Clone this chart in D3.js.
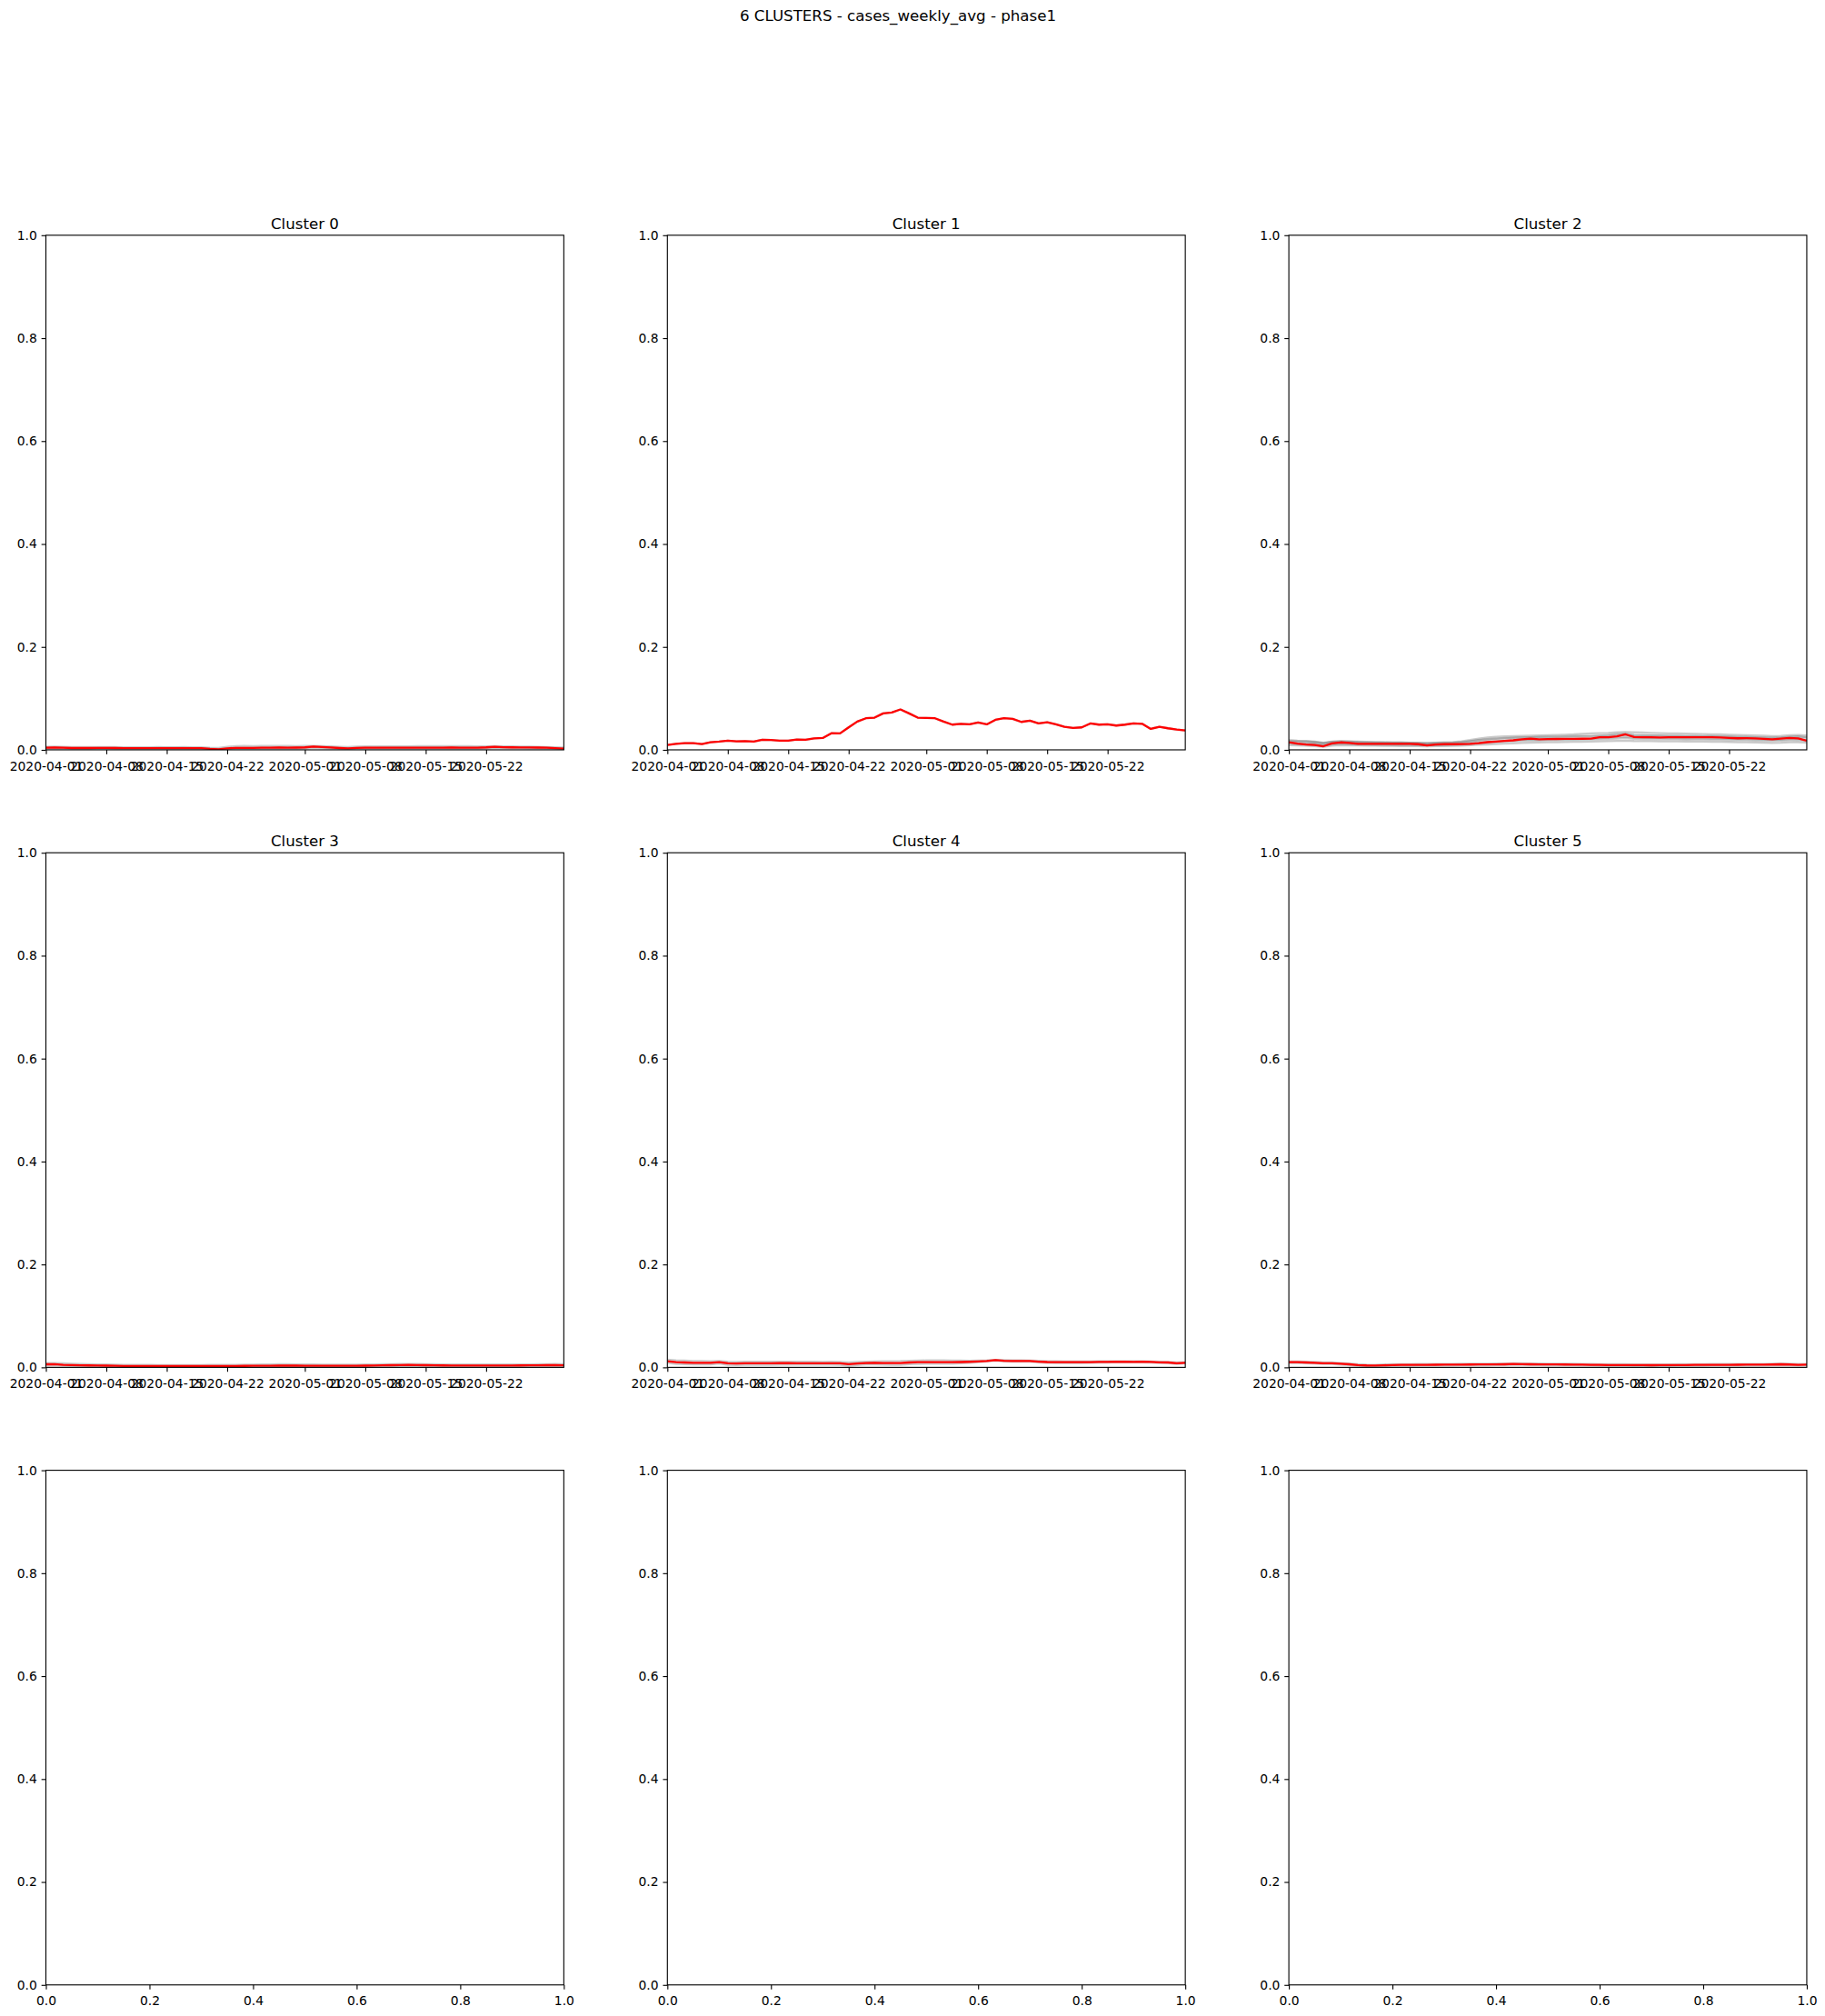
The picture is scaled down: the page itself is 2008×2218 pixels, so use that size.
<!DOCTYPE html>
<html><head><meta charset="utf-8">
<script src="https://cdn.jsdelivr.net/npm/d3@7"></script>
<style>body{margin:0;background:#fff}svg{display:block}</style>
</head><body>
<script>
// ---------------- DATA ----------------
const figTitle = "6 CLUSTERS - cases_weekly_avg - phase1";
const clusterNames = ["Cluster 0", "Cluster 1", "Cluster 2", "Cluster 3", "Cluster 4", "Cluster 5"];
const startDate = "2020-04-01";
const endDate = "2020-05-31";
const xTickDates = ["2020-04-01", "2020-04-08", "2020-04-15", "2020-04-22", "2020-05-01", "2020-05-08", "2020-05-15", "2020-05-22"];
const yTickValues = [0, 0.2, 0.4, 0.6, 0.8, 1.0];
const emptyXTickValues = [0, 0.2, 0.4, 0.6, 0.8, 1.0];

const cluster0Mean = [0.004,0.0045,0.004,0.0035,0.0035,0.0035,0.0036,0.0036,0.0035,0.0033,0.0032,0.0032,0.0033,0.0034,0.0033,0.0033,0.0034,0.0033,0.0032,0.002,0.0012,0.003,0.0038,0.0038,0.0037,0.004,0.0043,0.0046,0.0042,0.0044,0.0048,0.0065,0.0055,0.0045,0.0035,0.0028,0.0038,0.0042,0.004,0.004,0.0041,0.004,0.004,0.0041,0.0042,0.0043,0.0043,0.0044,0.0043,0.0042,0.0043,0.0048,0.006,0.0052,0.0048,0.0047,0.0045,0.0044,0.004,0.0033,0.0025];
const cluster0Members = [
 [0.006,0.0065,0.006,0.0055,0.0055,0.0054,0.0055,0.0055,0.0054,0.0052,0.005,0.005,0.0052,0.0053,0.0052,0.0052,0.0053,0.0052,0.005,0.004,0.0035,0.006,0.0072,0.0075,0.0074,0.0075,0.0076,0.0078,0.0075,0.0074,0.0075,0.0078,0.0072,0.0068,0.006,0.0055,0.0062,0.0066,0.0066,0.0067,0.0068,0.0068,0.0069,0.007,0.0071,0.0072,0.0072,0.0073,0.0072,0.007,0.0068,0.0068,0.0072,0.0068,0.0066,0.0064,0.0062,0.006,0.0056,0.005,0.0045],
 [0.002,0.0025,0.002,0.0018,0.0018,0.0017,0.0018,0.0018,0.0017,0.0016,0.0015,0.0015,0.0016,0.0016,0.0015,0.0015,0.0016,0.0015,0.0014,0.0008,0.0004,0.0012,0.0016,0.0015,0.0015,0.0017,0.002,0.0022,0.0019,0.002,0.0024,0.004,0.0032,0.0024,0.0015,0.001,0.0018,0.0021,0.002,0.002,0.002,0.0019,0.0019,0.002,0.0021,0.0021,0.0021,0.0022,0.0021,0.002,0.0022,0.0026,0.0038,0.0032,0.0028,0.0028,0.0026,0.0025,0.0022,0.0018,0.0012],
 [0.004,0.0042,0.0038,0.0034,0.0033,0.0034,0.0035,0.0035,0.0036,0.0034,0.0033,0.0034,0.0034,0.0036,0.0035,0.0035,0.0036,0.0034,0.0033,0.0025,0.0015,0.0028,0.0036,0.0035,0.0035,0.0038,0.0041,0.0044,0.004,0.0042,0.0046,0.006,0.0052,0.0044,0.0034,0.003,0.0036,0.004,0.0038,0.0039,0.004,0.0039,0.0039,0.004,0.0041,0.0042,0.0042,0.0043,0.0042,0.0041,0.0042,0.0046,0.0056,0.005,0.0046,0.0046,0.0044,0.0043,0.0039,0.0032,0.0024]
];

const cluster1Mean = [0.0094,0.0118,0.013,0.013,0.0112,0.0147,0.016,0.0177,0.0165,0.017,0.016,0.0195,0.019,0.018,0.0177,0.02,0.0195,0.0224,0.023,0.0324,0.0319,0.0437,0.0549,0.0614,0.0625,0.0708,0.0726,0.0785,0.0708,0.0625,0.062,0.0614,0.0549,0.049,0.0507,0.0496,0.053,0.0496,0.0584,0.0614,0.0602,0.0543,0.0566,0.0513,0.0537,0.0496,0.0448,0.0425,0.0437,0.0513,0.049,0.0496,0.0472,0.049,0.0513,0.0507,0.0407,0.0448,0.0419,0.0395,0.0378];
const cluster1Members = [
 [0.0094,0.0118,0.013,0.013,0.0112,0.0147,0.016,0.0177,0.0165,0.017,0.016,0.0195,0.019,0.018,0.0177,0.02,0.0195,0.0224,0.023,0.0324,0.0319,0.0437,0.0549,0.0614,0.0625,0.0708,0.0726,0.0785,0.0708,0.0625,0.062,0.0614,0.0549,0.049,0.0507,0.0496,0.053,0.0496,0.0584,0.0614,0.0602,0.0543,0.0566,0.0513,0.0537,0.0496,0.0448,0.0425,0.0437,0.0513,0.049,0.0496,0.0472,0.049,0.0513,0.0507,0.0407,0.0448,0.0419,0.0395,0.0378]
];

const cluster2Mean = [0.0147,0.012,0.0105,0.0095,0.007,0.0125,0.0145,0.0135,0.0118,0.0118,0.0118,0.0118,0.0116,0.0118,0.0117,0.011,0.0085,0.0105,0.011,0.011,0.0112,0.0118,0.013,0.015,0.0162,0.0175,0.0185,0.0205,0.0218,0.0205,0.021,0.0212,0.0214,0.0215,0.0216,0.0218,0.0245,0.0245,0.0262,0.03,0.025,0.0245,0.0243,0.0242,0.0243,0.0244,0.0245,0.0245,0.0244,0.0243,0.0242,0.0232,0.0225,0.0226,0.0224,0.0215,0.0205,0.022,0.023,0.0224,0.0177];
const cluster2Members = [
 [0.019,0.018,0.0175,0.016,0.014,0.016,0.017,0.0165,0.016,0.0155,0.015,0.015,0.0148,0.0145,0.014,0.0138,0.0135,0.014,0.0145,0.015,0.0165,0.019,0.022,0.024,0.0255,0.026,0.0265,0.027,0.0275,0.028,0.0285,0.029,0.0295,0.03,0.031,0.032,0.0325,0.033,0.034,0.0345,0.034,0.0335,0.033,0.0325,0.032,0.0318,0.0315,0.031,0.0305,0.03,0.03,0.0295,0.029,0.0285,0.028,0.0275,0.0265,0.027,0.0285,0.029,0.028],
 [0.016,0.0155,0.015,0.0145,0.0135,0.0145,0.015,0.0148,0.0145,0.014,0.014,0.0138,0.0136,0.0135,0.0133,0.013,0.0128,0.0132,0.0136,0.014,0.015,0.017,0.019,0.021,0.022,0.023,0.0235,0.024,0.0245,0.025,0.0252,0.0255,0.026,0.0265,0.027,0.0272,0.0275,0.028,0.029,0.0295,0.0285,0.028,0.0278,0.0275,0.0272,0.027,0.0268,0.0265,0.0262,0.026,0.0258,0.0255,0.025,0.0248,0.0245,0.024,0.0235,0.0238,0.025,0.0255,0.024],
 [0.012,0.011,0.0105,0.01,0.009,0.0105,0.0115,0.011,0.0105,0.0102,0.01,0.0098,0.0096,0.0095,0.0094,0.0092,0.009,0.0092,0.0095,0.0098,0.0105,0.0115,0.0128,0.014,0.015,0.016,0.0168,0.0175,0.018,0.0185,0.0188,0.019,0.0192,0.0195,0.0198,0.02,0.0205,0.021,0.022,0.023,0.0215,0.021,0.0208,0.0206,0.0205,0.0204,0.0203,0.0202,0.02,0.0198,0.0196,0.0194,0.019,0.0188,0.0185,0.018,0.0175,0.018,0.0188,0.019,0.017],
 [0.009,0.0085,0.008,0.0075,0.006,0.008,0.009,0.0088,0.0085,0.0083,0.008,0.0078,0.0076,0.0075,0.0074,0.0072,0.007,0.0072,0.0075,0.0078,0.0082,0.009,0.0098,0.0105,0.0112,0.012,0.0128,0.0135,0.014,0.0145,0.0148,0.015,0.0153,0.0155,0.0158,0.016,0.0165,0.017,0.0175,0.018,0.0172,0.017,0.0168,0.0166,0.0165,0.0164,0.0163,0.0162,0.016,0.0158,0.0156,0.0154,0.015,0.0148,0.0145,0.014,0.0136,0.014,0.0148,0.015,0.014],
 [0.0175,0.017,0.0165,0.015,0.0125,0.0155,0.0165,0.016,0.015,0.0145,0.0142,0.014,0.0138,0.0137,0.0135,0.013,0.0118,0.0128,0.0132,0.0135,0.0145,0.0165,0.0185,0.02,0.0212,0.0222,0.023,0.0238,0.0245,0.0248,0.025,0.0252,0.0255,0.0258,0.026,0.0262,0.0275,0.029,0.0305,0.032,0.029,0.0285,0.028,0.0278,0.0276,0.0274,0.0272,0.027,0.0268,0.0265,0.0262,0.026,0.0255,0.025,0.0245,0.024,0.0232,0.024,0.0255,0.026,0.0245],
 [0.0135,0.0125,0.012,0.0115,0.0095,0.012,0.013,0.0125,0.012,0.0118,0.0115,0.0113,0.0111,0.011,0.0108,0.0105,0.0095,0.0102,0.0106,0.011,0.0118,0.0132,0.0148,0.016,0.017,0.018,0.0188,0.0195,0.02,0.0202,0.0205,0.0208,0.021,0.0212,0.0215,0.0218,0.0228,0.0235,0.0245,0.0255,0.0238,0.0235,0.0232,0.023,0.0228,0.0226,0.0225,0.0224,0.0222,0.022,0.0218,0.0215,0.021,0.0208,0.0205,0.02,0.0195,0.0198,0.021,0.0212,0.0195]
];

const cluster3Mean = [0.006,0.0062,0.005,0.0045,0.004,0.0038,0.0035,0.0033,0.003,0.0028,0.0028,0.0027,0.0027,0.0026,0.0026,0.0025,0.0025,0.0026,0.0026,0.0026,0.0027,0.0028,0.0028,0.0029,0.003,0.0031,0.0032,0.0033,0.0033,0.0033,0.0032,0.0032,0.0031,0.003,0.003,0.003,0.0031,0.0033,0.0036,0.004,0.0042,0.0045,0.0048,0.0046,0.0042,0.004,0.0038,0.0037,0.0036,0.0035,0.0035,0.0035,0.0036,0.0036,0.0037,0.0038,0.0039,0.004,0.0042,0.0045,0.004];
const cluster3Members = [
 [0.0085,0.0085,0.0078,0.0072,0.0066,0.0062,0.0058,0.0055,0.0052,0.005,0.0049,0.0048,0.0047,0.0046,0.0046,0.0045,0.0045,0.0046,0.0046,0.0047,0.0048,0.0049,0.005,0.0052,0.0054,0.0056,0.0058,0.006,0.006,0.0058,0.0056,0.0055,0.0054,0.0053,0.0052,0.0052,0.0053,0.0055,0.0058,0.006,0.0062,0.0064,0.0066,0.0064,0.0062,0.006,0.0058,0.0057,0.0056,0.0055,0.0055,0.0055,0.0056,0.0056,0.0057,0.0058,0.0059,0.006,0.0062,0.0065,0.006],
 [0.0035,0.004,0.003,0.0025,0.002,0.0018,0.0016,0.0014,0.0012,0.0011,0.0011,0.001,0.001,0.001,0.001,0.001,0.001,0.001,0.001,0.001,0.0011,0.0011,0.0011,0.0012,0.0012,0.0013,0.0013,0.0014,0.0014,0.0014,0.0013,0.0013,0.0012,0.0012,0.0012,0.0012,0.0013,0.0014,0.0016,0.002,0.0024,0.0028,0.003,0.0028,0.0024,0.0022,0.002,0.0019,0.0018,0.0017,0.0017,0.0017,0.0018,0.0018,0.0019,0.002,0.0021,0.0022,0.0024,0.0027,0.0022]
];

const cluster4Mean = [0.012,0.01,0.0095,0.009,0.009,0.0088,0.01,0.0078,0.0076,0.0078,0.008,0.008,0.0081,0.0082,0.0082,0.0081,0.008,0.008,0.008,0.0081,0.0078,0.0062,0.0075,0.0085,0.0086,0.0085,0.0084,0.0085,0.0095,0.01,0.0102,0.0103,0.0103,0.0102,0.0104,0.0108,0.0115,0.0125,0.014,0.0128,0.0125,0.0124,0.0122,0.0112,0.0104,0.0102,0.0101,0.0101,0.01,0.0102,0.0105,0.0106,0.011,0.0108,0.0107,0.0108,0.0105,0.0098,0.0095,0.008,0.009];
const cluster4Members = [
 [0.015,0.0135,0.013,0.0125,0.0122,0.012,0.0125,0.0108,0.0106,0.0108,0.011,0.011,0.0111,0.0112,0.0112,0.011,0.0108,0.0108,0.0107,0.0108,0.0105,0.0095,0.0105,0.0112,0.0115,0.0118,0.012,0.0122,0.0128,0.0132,0.0135,0.0136,0.0136,0.0134,0.013,0.0128,0.013,0.0135,0.0145,0.014,0.0138,0.0136,0.0134,0.0126,0.012,0.0118,0.0116,0.0116,0.0115,0.0116,0.0118,0.0118,0.012,0.0118,0.0117,0.0118,0.0115,0.011,0.0106,0.0095,0.01],
 [0.009,0.0068,0.0062,0.0058,0.0058,0.0056,0.0075,0.0048,0.0046,0.0048,0.005,0.005,0.0051,0.0052,0.0052,0.0052,0.0052,0.0052,0.0053,0.0054,0.0051,0.003,0.0045,0.0058,0.0057,0.0052,0.0048,0.0048,0.0062,0.0068,0.007,0.007,0.007,0.007,0.0078,0.0088,0.01,0.0115,0.0135,0.0116,0.0112,0.0112,0.011,0.0098,0.0088,0.0086,0.0086,0.0086,0.0085,0.0088,0.0092,0.0094,0.01,0.0098,0.0097,0.0098,0.0095,0.0086,0.0084,0.0065,0.008]
];

const cluster5Mean = [0.01,0.01,0.0095,0.009,0.008,0.008,0.007,0.006,0.0045,0.0038,0.0035,0.004,0.0045,0.0047,0.0048,0.005,0.005,0.0051,0.0052,0.0053,0.0054,0.0055,0.0056,0.0057,0.0058,0.006,0.0065,0.0062,0.006,0.0058,0.0057,0.0056,0.0055,0.0054,0.0053,0.005,0.0048,0.0046,0.0045,0.0045,0.0044,0.0043,0.0042,0.0043,0.0044,0.0045,0.0046,0.0047,0.0048,0.0049,0.005,0.005,0.0051,0.0052,0.0052,0.0053,0.0055,0.006,0.0055,0.005,0.0052];
const cluster5Members = [
 [0.0115,0.0115,0.011,0.0105,0.0095,0.0095,0.0085,0.0075,0.006,0.0052,0.005,0.0055,0.006,0.0062,0.0063,0.0065,0.0065,0.0066,0.0067,0.0068,0.0069,0.007,0.0071,0.0072,0.0073,0.0075,0.008,0.0077,0.0075,0.0073,0.0072,0.0071,0.007,0.0069,0.0068,0.0065,0.0063,0.0061,0.006,0.006,0.0059,0.0058,0.0057,0.0058,0.0059,0.006,0.0061,0.0062,0.0063,0.0064,0.0065,0.0065,0.0066,0.0067,0.0067,0.0068,0.007,0.0075,0.007,0.0065,0.0067],
 [0.0085,0.0085,0.008,0.0075,0.0065,0.0065,0.0055,0.0045,0.003,0.0024,0.002,0.0025,0.003,0.0032,0.0033,0.0035,0.0035,0.0036,0.0037,0.0038,0.0039,0.004,0.0041,0.0042,0.0043,0.0045,0.005,0.0047,0.0045,0.0043,0.0042,0.0041,0.004,0.0039,0.0038,0.0035,0.0033,0.0031,0.003,0.003,0.0029,0.0028,0.0027,0.0028,0.0029,0.003,0.0031,0.0032,0.0033,0.0034,0.0035,0.0035,0.0036,0.0037,0.0037,0.0038,0.004,0.0045,0.004,0.0035,0.0037]
];

// ---------------- LAYOUT / STYLE ----------------
const W = 2008, H = 2218;
const AW = 569.85, AH = 566.18;
const colLeft = [50.5, 734.3, 1418.1];
const rowTop = [258.8, 938.2, 1617.6];
const PT = 100 / 72;
const tickFont = 10 * PT, titleFont = 12 * PT;
const tickLen = 3.5 * PT, tickPad = 3.5 * PT, lw = 0.8 * PT;

const clusters = [
  {name: clusterNames[0], mean: cluster0Mean, members: cluster0Members},
  {name: clusterNames[1], mean: cluster1Mean, members: cluster1Members},
  {name: clusterNames[2], mean: cluster2Mean, members: cluster2Members},
  {name: clusterNames[3], mean: cluster3Mean, members: cluster3Members},
  {name: clusterNames[4], mean: cluster4Mean, members: cluster4Members},
  {name: clusterNames[5], mean: cluster5Mean, members: cluster5Members}
];

const parse = d3.utcParse("%Y-%m-%d");
const dates = d3.utcDay.range(parse(startDate), d3.utcDay.offset(parse(endDate), 1));

const svg = d3.select("body").append("svg")
  .attr("width", W).attr("height", H)
  .style("font-family", "'DejaVu Sans', sans-serif");
svg.append("rect").attr("width", W).attr("height", H).attr("fill", "#fff");

svg.append("text").attr("x", 988).attr("y", 23)
  .attr("text-anchor", "middle").attr("font-size", titleFont).attr("fill", "#000")
  .text(figTitle);

const defs = svg.append("defs");

function styleAxis(g) {
  g.select(".domain").remove();
  g.selectAll(".tick line").attr("stroke", "#000").attr("stroke-width", lw);
  g.selectAll(".tick text").attr("fill", "#000").attr("font-size", tickFont)
    .attr("font-family", "'DejaVu Sans', sans-serif");
}

for (let i = 0; i < 9; i++) {
  const r = Math.floor(i / 3), c = i % 3;
  const g = svg.append("g").attr("transform", `translate(${colLeft[c]},${rowTop[r]})`);
  const y = d3.scaleLinear().domain([0, 1]).range([AH, 0]);
  const cl = clusters[i];
  let x;
  if (cl) {
    x = d3.scaleUtc().domain([parse(startDate), parse(endDate)]).range([0, AW]);
    defs.append("clipPath").attr("id", "clip" + i).append("rect").attr("width", AW).attr("height", AH);
    const plot = g.append("g").attr("clip-path", `url(#clip${i})`);
    const line = d3.line().x((d, j) => x(dates[j])).y(d => y(d));
    cl.members.forEach(m => {
      plot.append("path").attr("d", line(m)).attr("fill", "none")
        .attr("stroke", "#808080").attr("stroke-opacity", 0.42)
        .attr("stroke-width", 2.3).attr("stroke-linejoin", "round");
    });
    plot.append("path").attr("d", line(cl.mean)).attr("fill", "none")
      .attr("stroke", "#ff0000").attr("stroke-width", 2.3).attr("stroke-linejoin", "round");
    const xa = g.append("g").attr("transform", `translate(0,${AH})`)
      .call(d3.axisBottom(x).tickValues(xTickDates.map(parse)).tickFormat(d3.utcFormat("%Y-%m-%d"))
        .tickSize(tickLen).tickPadding(tickPad + 3));
    styleAxis(xa);
    g.append("text").attr("x", AW / 2).attr("y", -6 * PT + 1.5).attr("text-anchor", "middle")
      .attr("font-size", titleFont).attr("fill", "#000").text(cl.name);
  } else {
    x = d3.scaleLinear().domain([0, 1]).range([0, AW]);
    const xa = g.append("g").attr("transform", `translate(0,${AH})`)
      .call(d3.axisBottom(x).tickValues(emptyXTickValues).tickFormat(d3.format(".1f"))
        .tickSize(tickLen).tickPadding(tickPad + 3));
    styleAxis(xa);
  }
  const ya = g.append("g")
    .call(d3.axisLeft(y).tickValues(yTickValues).tickFormat(d3.format(".1f"))
      .tickSize(tickLen).tickPadding(tickPad));
  styleAxis(ya);
  g.append("rect").attr("width", AW).attr("height", AH).attr("fill", "none")
    .attr("stroke", "#000").attr("stroke-width", lw);
}
</script>
</body></html>
